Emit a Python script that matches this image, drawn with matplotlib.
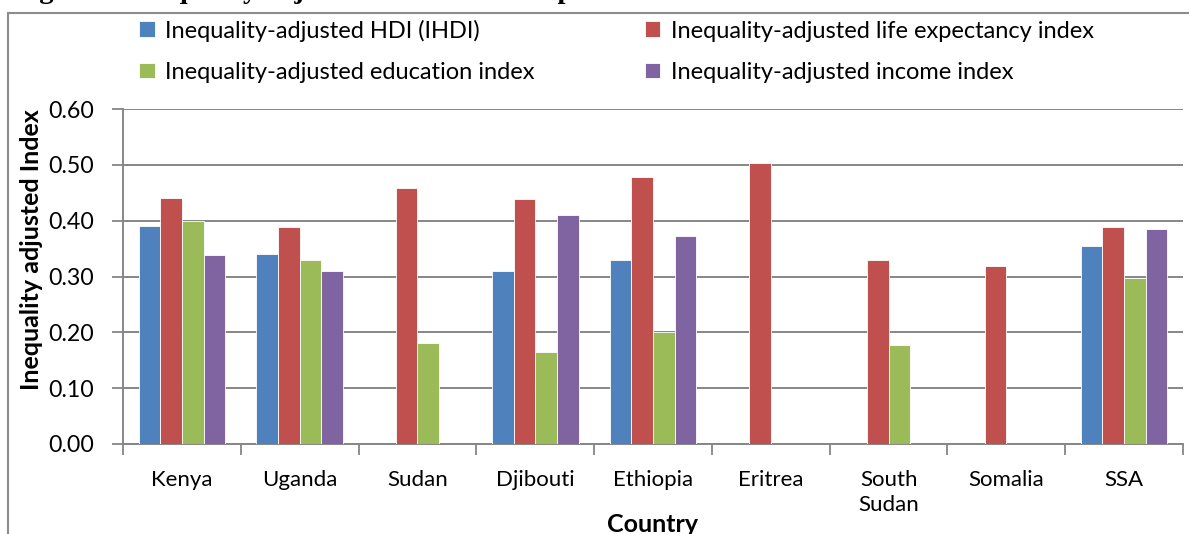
import numpy as np
import matplotlib.pyplot as plt
from matplotlib.patches import Rectangle

# data
countries = ['Kenya', 'Uganda', 'Sudan', 'Djibouti', 'Ethiopia', 'Eritrea',
             'South\nSudan', 'Somalia', 'SSA']
ihdi      = [0.390, 0.340, np.nan, 0.309, 0.329, np.nan, np.nan, np.nan, 0.354]
life_idx  = [0.440, 0.388, 0.458, 0.439, 0.478, 0.503, 0.329, 0.318, 0.389]
edu_idx   = [0.400, 0.329, 0.181, 0.164, 0.201, np.nan, 0.178, np.nan, 0.297]
inc_idx   = [0.339, 0.309, np.nan, 0.410, 0.372, np.nan, np.nan, np.nan, 0.385]

series_names = ['Inequality-adjusted HDI (IHDI)',
                'Inequality-adjusted life expectancy index',
                'Inequality-adjusted education index',
                'Inequality-adjusted income index']
colors = ['#4F81BD', '#C0504D', '#9BBB59', '#8064A2']

plt.rcParams['font.family'] = ['Lato', 'DejaVu Sans']

fig = plt.figure(figsize=(11.89, 5.34), dpi=100)
ax = fig.add_axes([123/1189, 1 - 444/534, (1183 - 123)/1189, (444 - 109)/534])

x = np.arange(len(countries))
w = 0.184
bars = []
for i, vals in enumerate([ihdi, life_idx, edu_idx, inc_idx]):
    b = ax.bar(x + (i - 1.5) * w, vals, width=w, color=colors[i],
               edgecolor='white', linewidth=0.6, zorder=3, label=series_names[i])
    bars.append(b)

ax.set_xlim(-0.5, len(countries) - 0.5)
ax.set_ylim(0, 0.60)
yt = np.arange(0, 0.61, 0.10)
ax.set_yticks(yt)
ax.set_yticklabels([f'{v:.2f}' for v in yt], fontsize=16.7)
ax.set_xticks(x)
ax.set_xticklabels(countries, fontsize=16, linespacing=1.3)
ax.set_xticks(np.arange(-0.5, len(countries)), minor=True)
ax.tick_params(axis='x', which='major', length=0, pad=19)
ax.tick_params(axis='x', which='minor', length=8, width=1.3, color='#868686')
ax.tick_params(axis='y', length=8, width=1.3, color='#868686', pad=13)

ax.grid(axis='y', color='#868686', linewidth=1.4, zorder=0)
for s in ['top', 'right']:
    ax.spines[s].set_visible(False)
for s in ['left', 'bottom']:
    ax.spines[s].set_color('#868686')
    ax.spines[s].set_linewidth(1.4)

fig.text(32/1189, 1 - 250/534, 'Inequality adjusted Index', rotation=90,
         ha='center', va='center', fontsize=18, fontweight='bold')
fig.text(653/1189, 1 - 513/534, 'Country', ha='center', va='top',
         fontsize=18, fontweight='bold')

# legend: two columns, column-wise order
order = [0, 2, 1, 3]
fig.legend([bars[i] for i in order], [series_names[i] for i in order],
           loc='upper left', bbox_to_anchor=(130/1189, 1 - 10/534), ncol=2,
           frameon=False, fontsize=17, handlelength=0.65, handleheight=0.65,
           handletextpad=0.45, labelspacing=0.86, columnspacing=4.65,
           borderaxespad=0)

# outer chart border and the clipped caption above it
fig.patches.append(Rectangle((8/1189, -0.05), 1.2, 1 - 13/534 + 0.05,
                             transform=fig.transFigure, fill=False,
                             edgecolor='#8C8C8C', linewidth=1.5))
fig.text(14/1189, 1 + 2/534,
         'Figure 4: Inequality adjusted Human Development Index for IGAD Countries.',
         family='Liberation Serif', fontweight='bold', fontsize=20.5,
         ha='left', va='baseline')

fig.savefig('out.png', dpi=100)
